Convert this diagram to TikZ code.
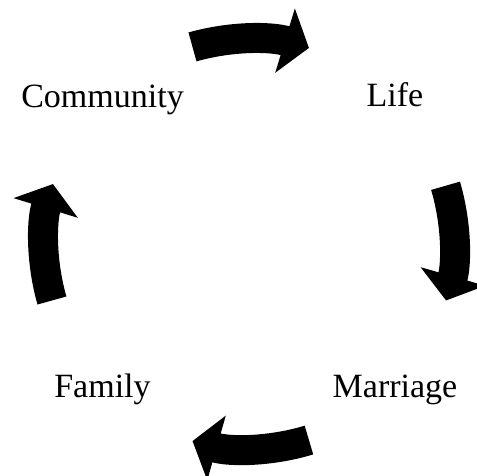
\documentclass[tikz,border=0pt]{standalone}
\usepackage{fontspec}
\setmainfont{Liberation Serif}
\usetikzlibrary{arrows.meta}

\begin{document}
\begin{tikzpicture}[
  x=1pt,y=1pt,
  stage/.style={font=\fontsize{34}{40}\selectfont,text=black,anchor=base,inner sep=0pt},
  cyclearrow/.style={draw=black,line width=30pt,-{Triangle[length=25pt,width=66pt]}},
]
\useasboundingbox (0,0) rectangle (477,476);

% ===================== STAGES =====================
\coordinate (hub) at (249,232);
\node[stage] (community) at (102.5,368) {Community};
\node[stage] (life)      at (395,369)   {Life};
\node[stage] (marriage)  at (395,78)    {Marriage};
\node[stage] (family)    at (102.5,78)  {Family};

% ===================== CYCLE ARROWS (clockwise) =====================
\draw[cyclearrow] ([shift={(106:205)}]hub) arc[start angle=106,end angle=73,radius=205];
\draw[cyclearrow] ([shift={(16.5:205)}]hub) arc[start angle=16.5,end angle=-16,radius=205];
\draw[cyclearrow] ([shift={(-73:205)}]hub) arc[start angle=-73,end angle=-106,radius=205];
\draw[cyclearrow] ([shift={(196:205)}]hub) arc[start angle=196,end angle=163,radius=205];

\end{tikzpicture}
\end{document}
